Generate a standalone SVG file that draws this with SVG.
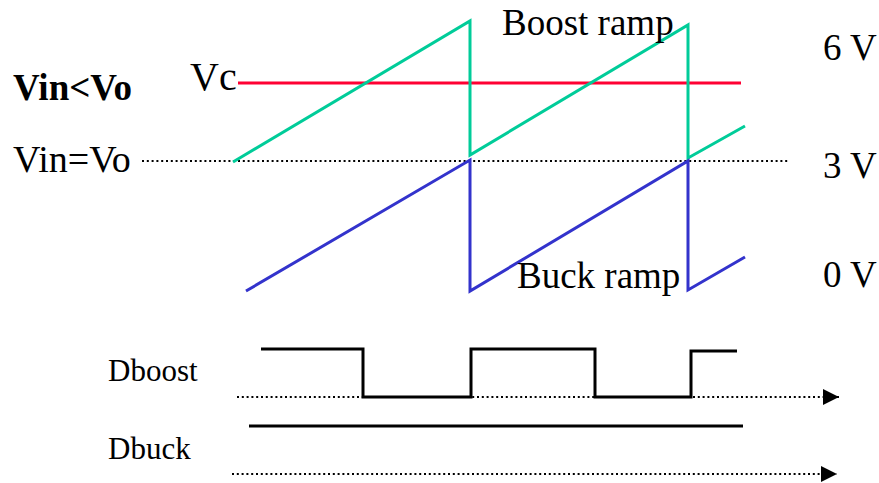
<svg xmlns="http://www.w3.org/2000/svg" width="879" height="483" viewBox="0 0 879 483">
<defs>
<style>
text{font-family:"Liberation Serif","Times New Roman",serif;fill:#000}
.t{font-size:37px}
.d{font-size:31px}
.ramp{fill:none;stroke-width:3;stroke-linejoin:miter}
.g{stroke:#00CC99}
.b{stroke:#3333CC}
.r{stroke:#FF0033;stroke-width:3}
.dot{stroke:#000;stroke-width:2.2;stroke-dasharray:2 2.8;fill:none}
.w{fill:none;stroke:#000;stroke-width:3}
</style>
<marker id="ah" viewBox="0 0 10 10" refX="10" refY="5" markerWidth="16" markerHeight="16" markerUnits="userSpaceOnUse" orient="auto">
<path d="M0,0 L10,5 L0,10 Z" fill="#000"/>
</marker>
</defs>
<rect width="879" height="483" fill="#fff"/>
<g id="axes">
<line class="dot" x1="142" y1="161" x2="790" y2="161"/>
<line class="dot" x1="237" y1="397" x2="839" y2="397" marker-end="url(#ah)"/>
<line class="dot" x1="232" y1="474" x2="837" y2="474" marker-end="url(#ah)"/>
</g>
<g id="vc-line">
<line class="r" x1="238" y1="83" x2="741" y2="83"/>
</g>
<g id="boost-ramp">
<polyline class="ramp g" points="233,162 470,21 470,155 688,25 688,158 745,126"/>
</g>
<g id="buck-ramp">
<polyline class="ramp b" points="246,291 470,160 470,291 688,161 688,290 745,257"/>
</g>
<g id="dboost-wave">
<polyline class="w" points="261,349 363,349 363,397 471,397 471,349 595,349 595,397 691,397 691,351 737,351"/>
</g>
<g id="dbuck-wave">
<line class="w" x1="249" y1="426" x2="743" y2="426"/>
</g>
<g id="labels">
<text x="13" y="100" class="t" font-weight="bold">Vin&lt;Vo</text>
<text x="190" y="90" style="font-size:40px">Vc</text>
<text x="13" y="172" style="font-size:38px">Vin=Vo</text>
<text x="502" y="35" class="t">Boost ramp</text>
<text x="517" y="288" class="t">Buck ramp</text>
<text x="823" y="60" class="t">6 V</text>
<text x="823" y="178" class="t">3 V</text>
<text x="823" y="287" class="t">0 V</text>
<text x="108" y="381" class="d">Dboost</text>
<text x="108" y="459" class="d">Dbuck</text>
</g>
</svg>
